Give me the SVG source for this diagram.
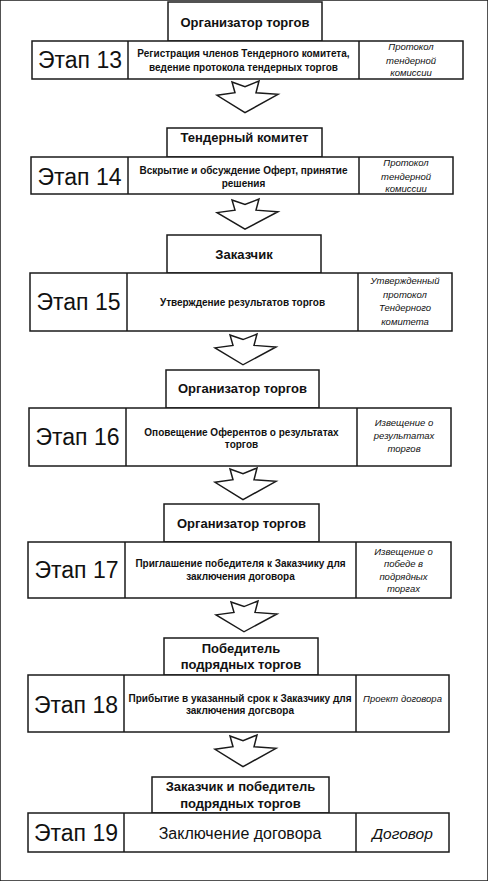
<svg xmlns="http://www.w3.org/2000/svg" xmlns:xlink="http://www.w3.org/1999/xlink" width="488" height="881" viewBox="0 0 488 881">
<style>
rect, line, .arr { fill: #fff; stroke: #1a1a1a; stroke-width: 1.5; }
text { font-family: "Liberation Sans", Arial, sans-serif; fill: #111; text-anchor: middle; }
.hd { font-size: 13px; font-weight: bold; }
.st { font-size: 23px; }
.md { font-size: 10px; font-weight: bold; }
.rt { font-size: 9.5px; font-style: italic; }
.mdl { font-size: 16px; }
.rtl { font-size: 15.5px; font-style: italic; }
</style>
<defs>
<path id="arrow" class="arr" d="M-13,0 L0,4.7 L14,-1 L11,10.7 L33,12.3 L0,30.7 L-28,13.3 L-10,10.7 Z"/>
</defs>
<rect x="0" y="0" width="488" height="881" fill="#fff" stroke="none"/>

<g id="stage13">
<rect x="168" y="2" width="154" height="39"/>
<text class="hd" x="245" y="27">Организатор торгов</text>
<rect x="32" y="41" width="431" height="38"/>
<line x1="128" y1="41" x2="128" y2="79"/>
<line x1="359" y1="41" x2="359" y2="79"/>
<text class="st" x="80" y="68">Этап 13</text>
<text class="md" x="243.5" y="57">Регистрация членов Тендерного комитета,</text>
<text class="md" x="243.5" y="71">ведение протокола тендерных торгов</text>
<text class="rt" x="411" y="50">Протокол</text>
<text class="rt" x="411" y="64">тендерной</text>
<text class="rt" x="411" y="76">комиссии</text>
</g>

<g id="stage14">
<rect x="167" y="128" width="155" height="29"/>
<text class="hd" x="244.5" y="142">Тендерный комитет</text>
<rect x="31" y="157" width="422" height="37"/>
<line x1="128" y1="157" x2="128" y2="194"/>
<line x1="359" y1="157" x2="359" y2="194"/>
<text class="st" x="79.5" y="185">Этап 14</text>
<text class="md" x="243.5" y="173.5">Вскрытие и обсуждение Оферт, принятие</text>
<text class="md" x="243.5" y="186.5">решения</text>
<text class="rt" x="406" y="166">Протокол</text>
<text class="rt" x="406" y="180">тендерной</text>
<text class="rt" x="406" y="192">комиссии</text>
</g>

<g id="stage15">
<rect x="167" y="235" width="154" height="38"/>
<text class="hd" x="244" y="259">Заказчик</text>
<rect x="30" y="273" width="422" height="58"/>
<line x1="127" y1="273" x2="127" y2="331"/>
<line x1="358" y1="273" x2="358" y2="331"/>
<text class="st" x="78.5" y="310">Этап 15</text>
<text class="md" x="242.5" y="305.5">Утверждение результатов торгов</text>
<text class="rt" x="405" y="284">Утвержденный</text>
<text class="rt" x="405" y="298">протокол</text>
<text class="rt" x="405" y="311">Тендерного</text>
<text class="rt" x="405" y="325">комитета</text>
</g>

<g id="stage16">
<rect x="166" y="370" width="153" height="38"/>
<text class="hd" x="242.5" y="393">Организатор торгов</text>
<rect x="29" y="408" width="422" height="58"/>
<line x1="126" y1="408" x2="126" y2="466"/>
<line x1="357" y1="408" x2="357" y2="466"/>
<text class="st" x="77.5" y="445">Этап 16</text>
<text class="md" x="241.5" y="435.5">Оповещение Оферентов о результатах</text>
<text class="md" x="241.5" y="447.5">торгов</text>
<text class="rt" x="404" y="426">Извещение о</text>
<text class="rt" x="404" y="439">результатах</text>
<text class="rt" x="404" y="452">торгов</text>
</g>

<g id="stage17">
<rect x="164" y="504" width="155" height="38"/>
<text class="hd" x="241.5" y="528">Организатор торгов</text>
<rect x="28" y="542" width="423" height="56"/>
<line x1="125" y1="542" x2="125" y2="598"/>
<line x1="356" y1="542" x2="356" y2="598"/>
<text class="st" x="76.5" y="578">Этап 17</text>
<text class="md" x="240.5" y="566.5">Приглашение победителя к Заказчику для</text>
<text class="md" x="240.5" y="579.5">заключения договора</text>
<text class="rt" x="403.5" y="555">Извещение о</text>
<text class="rt" x="403.5" y="567">победе в</text>
<text class="rt" x="403.5" y="580">подрядных</text>
<text class="rt" x="403.5" y="592">торгах</text>
</g>

<g id="stage18">
<rect x="164" y="638" width="154" height="37"/>
<text class="hd" x="241" y="652.5">Победитель</text>
<text class="hd" x="241" y="668.5">подрядных торгов</text>
<rect x="28" y="675" width="421" height="57"/>
<line x1="124" y1="675" x2="124" y2="732"/>
<line x1="356" y1="675" x2="356" y2="732"/>
<text class="st" x="76" y="713">Этап 18</text>
<text class="md" x="240" y="701.5">Прибытие в указанный срок к Заказчику для</text>
<text class="md" x="240" y="713.5">заключения догсвора</text>
<text class="rt" x="402.5" y="701.5">Проект договора</text>
</g>

<g id="stage19">
<rect x="152" y="777" width="177" height="36"/>
<text class="hd" x="240.5" y="790.5">Заказчик и победитель</text>
<text class="hd" x="240.5" y="807.5">подрядных торгов</text>
<rect x="28" y="813" width="421" height="39"/>
<line x1="124" y1="813" x2="124" y2="852"/>
<line x1="356" y1="813" x2="356" y2="852"/>
<text class="st" x="76" y="841">Этап 19</text>
<text class="mdl" x="240" y="838.5">Заключение договора</text>
<text class="rtl" x="402.5" y="838.5">Договор</text>
</g>

<g id="connectors">
<use xlink:href="#arrow" transform="translate(245,82)"/>
<use xlink:href="#arrow" transform="translate(245,200) scale(1,0.95)"/>
<use xlink:href="#arrow" transform="translate(243,335) scale(1,0.97)"/>
<use xlink:href="#arrow" transform="translate(243,469)"/>
<use xlink:href="#arrow" transform="translate(244,602) scale(1,0.97)"/>
<use xlink:href="#arrow" transform="translate(243,736)"/>
</g>
</svg>
